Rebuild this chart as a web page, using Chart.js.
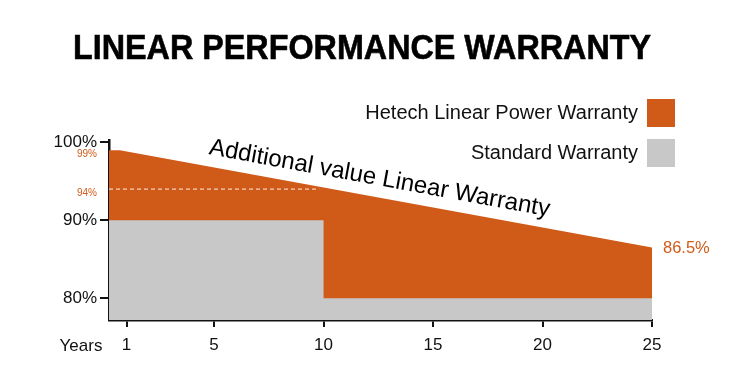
<!DOCTYPE html>
<html>
<head>
<meta charset="utf-8">
<script src="https://cdn.jsdelivr.net/npm/chart.js@4.4.0/dist/chart.umd.min.js"></script>
<style>
  html, body { margin: 0; padding: 0; background: #fff; }
  #wrap { width: 750px; height: 390px; }
</style>
</head>
<body>
<div id="wrap"><canvas id="chart" width="750" height="390"></canvas></div>
<script>
// ── Data ──
const TITLE = 'LINEAR PERFORMANCE WARRANTY';
const HETECH_LABEL = 'Hetech Linear Power Warranty';
const STANDARD_LABEL = 'Standard Warranty';
const NOTE_TEXT = 'Additional value Linear Warranty';

const HETECH_YEARS = [0.2, 0.7, 25];
const HETECH_VALUES = [99, 99, 86.5];
const STANDARD_YEARS = [0.2, 10, 10, 25];
const STANDARD_VALUES = [90, 90, 80, 80];
const MARK_YEARS = [0.2, 9.8];
const MARK_VALUES = [94, 94];

const X_TICKS = [1, 5, 10, 15, 20, 25];
const Y_TICKS = [80, 90, 100];
const Y_MARKS = [94, 99];

const ORANGE = '#d05a18';
const GREY = '#c8c8c8';
const FONT = "'Liberation Sans', Arial, sans-serif";

const toPoints = (xs, ys) => xs.map((x, i) => ({ x, y: ys[i] }));

// ── Overlay text: title, legend, labels ──
const overlay = {
  id: 'overlay',
  afterDraw(chart) {
    const { ctx, chartArea: area, scales: { x, y } } = chart;
    ctx.save();

    // title, squeezed to the reference width
    ctx.font = `bold 35px ${FONT}`;
    ctx.fillStyle = '#000';
    ctx.strokeStyle = '#000';
    ctx.lineWidth = 0.6;
    ctx.textBaseline = 'middle';
    ctx.textAlign = 'center';
    const w = ctx.measureText(TITLE).width;
    const sx = Math.min(1, 578 / w);
    ctx.save();
    ctx.translate(362, 49);
    ctx.scale(sx, 1);
    ctx.fillText(TITLE, 0, 0);
    ctx.strokeText(TITLE, 0, 0);
    ctx.restore();

    // legend (text right, box on the right)
    const items = [
      { label: HETECH_LABEL, color: ORANGE, y: 113 },
      { label: STANDARD_LABEL, color: GREY, y: 153 }
    ];
    ctx.font = `20px ${FONT}`;
    ctx.textAlign = 'right';
    items.forEach(it => {
      ctx.fillStyle = it.color;
      ctx.fillRect(647, it.y - 14, 28, 28);
      ctx.fillStyle = '#111';
      ctx.fillText(it.label, 638, it.y);
    });

    // small orange marks on the y axis
    ctx.font = `10px ${FONT}`;
    ctx.fillStyle = ORANGE;
    Y_MARKS.forEach(v => ctx.fillText(v + '%', area.left - 12, y.getPixelForValue(v) + 4));

    // "Years" beside x tick labels
    ctx.font = `17px ${FONT}`;
    ctx.textAlign = 'center';
    ctx.fillStyle = '#111';
    ctx.fillText('Years', area.left - 28, area.bottom + 26);

    // end value
    const lastX = HETECH_YEARS[HETECH_YEARS.length - 1];
    const lastY = HETECH_VALUES[HETECH_VALUES.length - 1];
    ctx.font = `16.5px ${FONT}`;
    ctx.textAlign = 'left';
    ctx.fillStyle = ORANGE;
    ctx.fillText(lastY + '%', x.getPixelForValue(lastX) + 11, y.getPixelForValue(lastY) + 1);

    // note along the sloping line
    const x0 = x.getPixelForValue(HETECH_YEARS[1]), y0 = y.getPixelForValue(HETECH_VALUES[1]);
    const x1 = x.getPixelForValue(lastX), y1 = y.getPixelForValue(lastY);
    const ang = Math.atan2(y1 - y0, x1 - x0);
    const mx = x.getPixelForValue(12.4);
    const my = y0 + (mx - x0) * Math.tan(ang);
    ctx.translate(mx, my);
    ctx.rotate(ang);
    ctx.font = `24px ${FONT}`;
    ctx.textAlign = 'center';
    ctx.textBaseline = 'alphabetic';
    ctx.fillStyle = '#000';
    ctx.fillText(NOTE_TEXT, 0, -12);

    ctx.restore();
  }
};

new Chart(document.getElementById('chart'), {
  type: 'line',
  data: {
    datasets: [
      {
        label: '94% mark',
        data: toPoints(MARK_YEARS, MARK_VALUES),
        borderColor: 'rgba(255,255,255,0.9)',
        borderWidth: 1,
        borderDash: [4, 3],
        pointRadius: 0,
        fill: false,
        order: 0
      },
      {
        label: STANDARD_LABEL,
        data: toPoints(STANDARD_YEARS, STANDARD_VALUES),
        borderColor: GREY,
        borderWidth: 0,
        backgroundColor: GREY,
        pointRadius: 0,
        fill: 'start',
        order: 1
      },
      {
        label: HETECH_LABEL,
        data: toPoints(HETECH_YEARS, HETECH_VALUES),
        borderColor: ORANGE,
        borderWidth: 0,
        backgroundColor: ORANGE,
        pointRadius: 0,
        fill: 'start',
        order: 2
      }
    ]
  },
  options: {
    responsive: false,
    animation: false,
    layout: { autoPadding: false, padding: { top: 140, right: 98, left: 0, bottom: 0 } },
    plugins: {
      legend: { display: false },
      title: { display: false },
      tooltip: { enabled: false }
    },
    scales: {
      x: {
        type: 'linear',
        min: 0.2,
        max: 25,
        afterBuildTicks: s => { s.ticks = X_TICKS.map(v => ({ value: v })); },
        afterFit: s => { s.height = 70; },
        border: { color: '#111', width: 2.5 },
        grid: { drawOnChartArea: false, tickLength: 7, tickColor: '#111', lineWidth: 2 },
        ticks: { color: '#111', padding: 8, font: { family: FONT, size: 17 }, maxRotation: 0 }
      },
      y: {
        type: 'linear',
        min: 77.2,
        max: 100.3,
        afterBuildTicks: s => { s.ticks = Y_TICKS.map(v => ({ value: v })); },
        afterFit: s => { s.width = 109; },
        border: { color: '#111', width: 2.5 },
        grid: { drawOnChartArea: false, tickLength: 9, lineWidth: 2, tickColor: '#111' },
        ticks: {
          padding: 3,
          callback: v => v + '%',
          color: '#111',
          font: { family: FONT, size: 17 }
        }
      }
    }
  },
  plugins: [overlay]
});
</script>
</body>
</html>
